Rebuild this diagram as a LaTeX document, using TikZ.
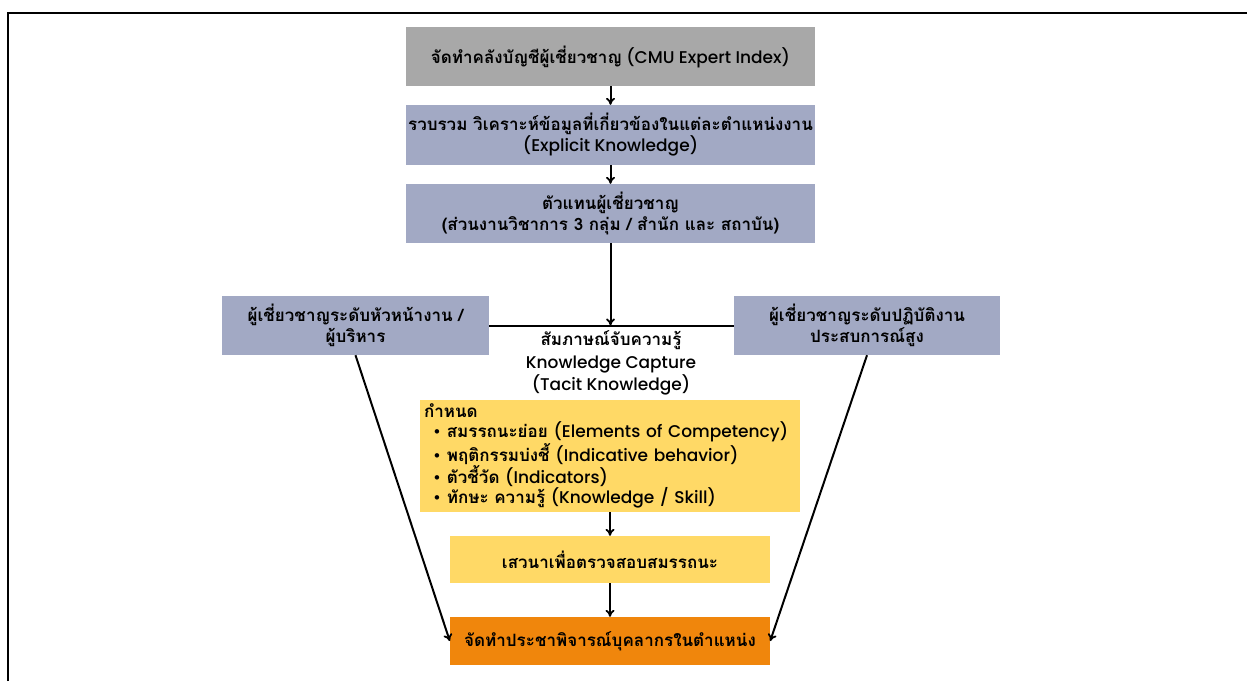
\documentclass[tikz,border=0pt]{standalone}
\usepackage{fontspec}
\setmainfont{Poppins}[UprightFont=* Medium, BoldFont=* SemiBold]
\newfontfamily\thf[Script=Thai]{Loma}
\newcommand{\T}[1]{{\thf\bfseries #1}}
\usetikzlibrary{arrows.meta}
\definecolor{cgray}{HTML}{A8A8A8}
\definecolor{cblue}{HTML}{A2A9C4}
\definecolor{cyel}{HTML}{FFD966}
\definecolor{cora}{HTML}{F0860C}
\tikzset{
  box/.style={rectangle, inner sep=0pt, align=center, font=\fontsize{17}{21}\selectfont},
  arr/.style={line width=2pt, -{To[length=7pt,width=9pt,line width=1.8pt]}},
  ln/.style={line width=2pt},
}
\begin{document}
\begin{tikzpicture}[x=1pt,y=-1pt]
\useasboundingbox (0,0) rectangle (1247,681);
\draw[line width=2pt] (8,681) -- (8,13) -- (1247,13);

\node[box, fill=cgray, minimum width=409pt, minimum height=59pt] (b1) at (610.5,56.5)
  {\T{จัดทำคลังบัญชีผู้เชี่ยวชาญ} (CMU Expert Index)};
\node[box, fill=cblue, minimum width=409pt, minimum height=60pt] (b2) at (610.5,135)
  {\T{รวบรวม วิเคราะห์ข้อมูลที่เกี่ยวข้องในแต่ละตำแหน่งงาน}\\(Explicit Knowledge)};
\node[box, fill=cblue, minimum width=409pt, minimum height=59pt] (b3) at (610.5,213.5)
  {\T{ตัวแทนผู้เชี่ยวชาญ}\\\T{(ส่วนงานวิชาการ 3 กลุ่ม / สำนัก และ สถาบัน)}};
\node[box, fill=cblue, minimum width=267pt, minimum height=59pt] (lft) at (355.5,325.5)
  {\T{ผู้เชี่ยวชาญระดับหัวหน้างาน /}\\\T{ผู้บริหาร}};
\node[box, fill=cblue, minimum width=266pt, minimum height=59pt] (rgt) at (867,325.5)
  {\T{ผู้เชี่ยวชาญระดับปฏิบัติงาน}\\\T{ประสบการณ์สูง}};
\node[box, font=\fontsize{17}{22.5}\selectfont] (mid) at (611,363)
  {\T{สัมภาษณ์จับความรู้}\\Knowledge Capture\\(Tacit Knowledge)};
\node[box, fill=cyel, minimum width=380pt, minimum height=112pt, align=left,
  text width=372pt, font=\fontsize{17}{20}\selectfont] (y1) at (610,456)
  {\T{กำหนด}\\
   \hspace{9pt}•\hspace{6pt}\T{สมรรถนะย่อย} (Elements of Competency)\\
   \hspace{9pt}•\hspace{6pt}\T{พฤติกรรมบ่งชี้} (Indicative behavior)\\
   \hspace{9pt}•\hspace{6pt}\T{ตัวชี้วัด} (Indicators)\\
   \hspace{9pt}•\hspace{6pt}\T{ทักษะ ความรู้} (Knowledge / Skill)};
\node[box, fill=cyel, minimum width=320pt, minimum height=47pt] (y2) at (610,559.5)
  {\T{เสวนาเพื่อตรวจสอบสมรรถนะ}};
\node[box, fill=cora, minimum width=320pt, minimum height=48pt] (or) at (610,641)
  {\T{จัดทำประชาพิจารณ์บุคลากรในตำแหน่ง}};

\coordinate (j) at (b3.south |- lft.east);
\draw[arr] (b1.south) -- (b2.north);
\draw[arr] (b2.south) -- (b3.north);
\draw[arr] (b3.south) -- (j);
\draw[ln] (lft.east) -- (rgt.west);
\draw[arr] (y1.south) -- (y2.north);
\draw[arr] (y2.south) -- (or.north);
\draw[arr] (lft.south) -- (or.west);
\draw[arr] (rgt.south) -- (or.east);
\end{tikzpicture}
\end{document}
